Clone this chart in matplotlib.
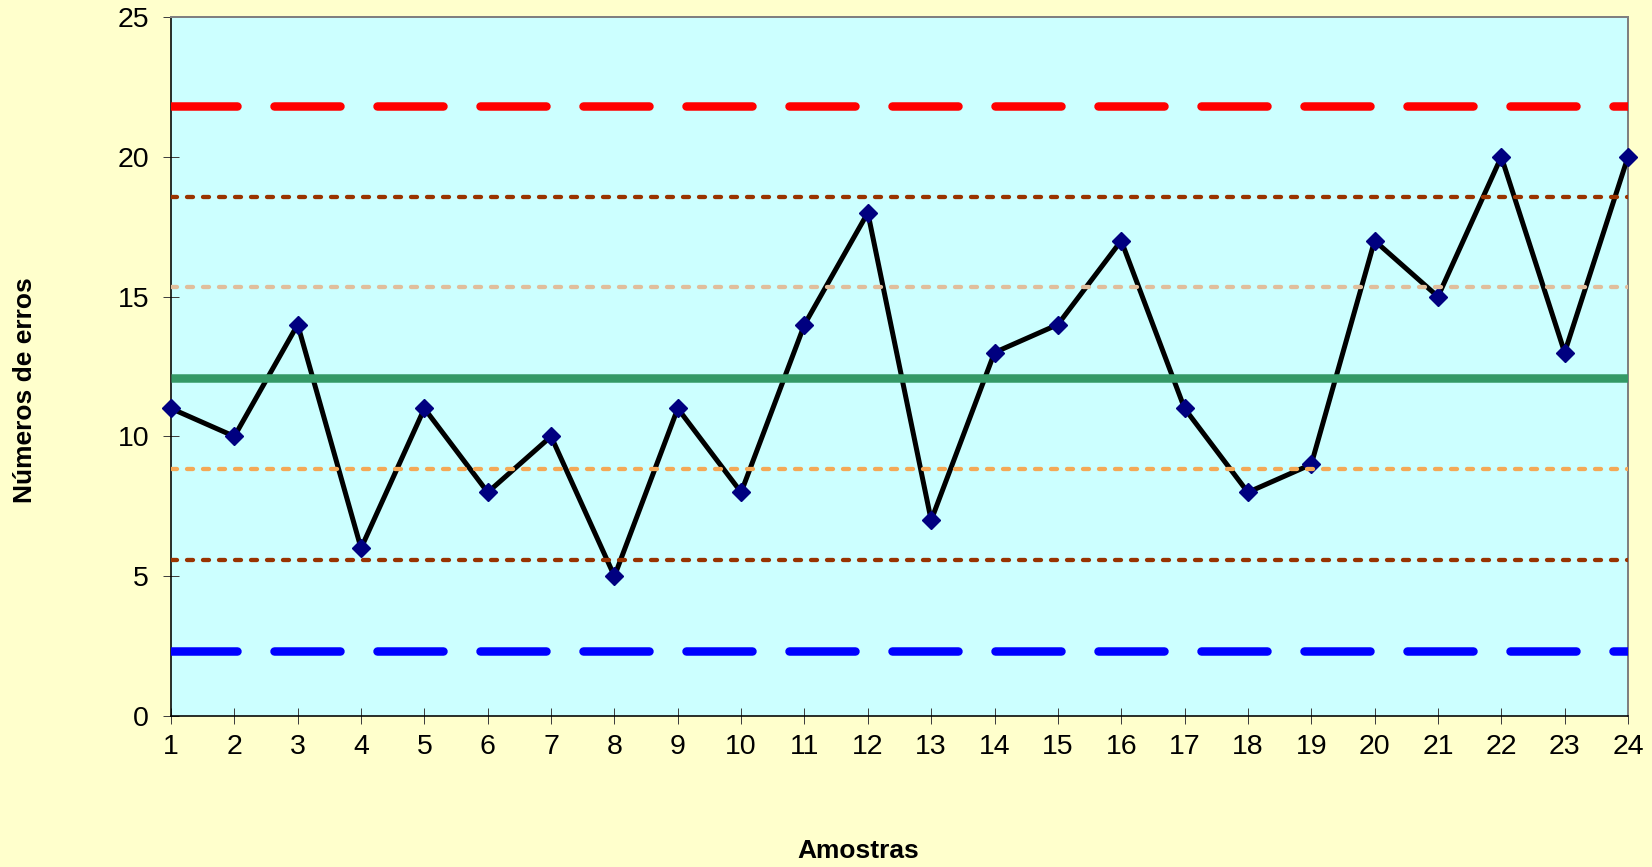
import matplotlib
matplotlib.use("Agg")
import matplotlib.pyplot as plt

plt.rcParams['font.family'] = ['Liberation Sans', 'DejaVu Sans']
plt.rcParams['lines.scale_dashes'] = False

# Sample number and count of errors per sample
amostras = list(range(1, 25))
erros = [11, 10, 14, 6, 11, 8, 10, 5, 11, 8, 14, 18, 7, 13, 14, 17, 11, 8, 9, 17, 15, 20, 13, 20]

# Control limits and zone lines
lsc = 21.83      # upper control limit
zona_a_sup = 18.58
zona_b_sup = 15.33
media = 12.08    # centre line
zona_b_inf = 8.83
zona_a_inf = 5.58
lic = 2.33       # lower control limit

x_ticks = list(range(1, 25))
y_ticks = [0, 5, 10, 15, 20, 25]

PX = 72 / 100  # points per pixel at dpi 100

fig = plt.figure(figsize=(16.52, 8.67), dpi=100, facecolor='#FFFFCC')
ax = fig.add_axes([171 / 1652, 1 - 716 / 867, 1457 / 1652, (716 - 17) / 867])
ax.set_facecolor('#CCFFFF')

# Data series
ax.plot(amostras, erros, color='black', lw=5 * PX, zorder=3,
        marker='D', markersize=9.5, markerfacecolor='#000080',
        markeredgecolor='#000080', clip_on=False)

xs = [amostras[0], amostras[-1]]
big_dash = (0, (66 * PX, 37 * PX))
small_dash = (0, (6 * PX, 10 * PX))

def hline(y, color, lw_px, style):
    ln, = ax.plot(xs, [y, y], color=color, lw=lw_px * PX, zorder=4,
                  solid_capstyle='butt')
    if style is not None:
        ln.set_linestyle(style)
        ln.set_dash_capstyle('round')

hline(lsc, '#FF0000', 8.5, big_dash)
hline(zona_a_sup, '#993300', 4.3, small_dash)
hline(zona_b_sup, '#E0BE9C', 4.3, small_dash)
hline(media, '#339966', 8.5, None)
hline(zona_b_inf, '#F4A856', 4.3, small_dash)
hline(zona_a_inf, '#993300', 4.3, small_dash)
hline(lic, '#0000FF', 8.5, big_dash)

ax.set_xlim(1, 24)
ax.set_ylim(0, 25)
ax.set_xticks(x_ticks)
ax.set_yticks(y_ticks)
ax.set_xticklabels([str(v) for v in x_ticks])
ax.set_yticklabels([str(v) for v in y_ticks])

ax.tick_params(axis='both', direction='inout', length=16 * PX, width=1 * PX,
               color='#404040', labelsize=20.5, labelcolor='black')
ax.tick_params(axis='x', pad=7)
ax.tick_params(axis='y', pad=10)

for side in ('left', 'bottom'):
    ax.spines[side].set_color('black')
    ax.spines[side].set_linewidth(1.6 * PX)
for side in ('top', 'right'):
    ax.spines[side].set_color('#808080')
    ax.spines[side].set_linewidth(2 * PX)

fig.text(858 / 1652, 1 - 851 / 867, 'Amostras', ha='center', va='center',
         fontsize=19, fontweight='bold')
fig.text(25 / 1652, 1 - 390 / 867, 'Números de erros', ha='center', va='center',
         rotation=90, fontsize=19, fontweight='bold')

fig.savefig('out.png', dpi=100, facecolor=fig.get_facecolor())
